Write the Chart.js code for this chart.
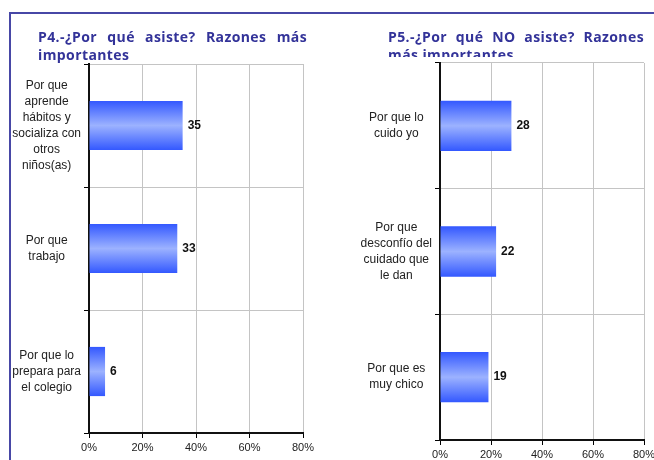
<!DOCTYPE html>
<html lang="es">
<head>
    <meta charset="UTF-8">
    <title>P4 / P5 - Razones más importantes</title>
    <script src="https://cdn.jsdelivr.net/npm/chart.js"></script>
    <style>
        body {
            margin: 0;
            width: 654px;
            height: 460px;
            overflow: hidden;
            position: relative;
            background: #fff;
            font-family: "Liberation Sans", Arial, sans-serif;
        }
        .frame {
            position: absolute;
            left: 9px;
            top: 12px;
            width: 660px;
            height: 460px;
            border-top: 2px solid #4747a6;
            border-left: 2px solid #4747a6;
        }
        canvas {
            position: absolute;
            top: 0;
        }
        #chartP4 { left: 0; }
        #chartP5 { left: 327px; }
        .title {
            position: absolute;
            top: 28px;
            font-family: "Open Sans", "DejaVu Sans", sans-serif;
            font-weight: bold;
            font-size: 14px;
            line-height: 18px;
            letter-spacing: 0.4px;
            color: #333399;
            text-align: justify;
            text-align-last: left;
        }
        #titleP4 { left: 38px; width: 269px; }
        #titleP5 { left: 388px; width: 256px; height: 29px; overflow: hidden; }
    </style>
</head>
<body>
    <div class="frame"></div>
    <canvas id="chartP4" width="327" height="460"></canvas>
    <canvas id="chartP5" width="327" height="460"></canvas>
    <div class="title" id="titleP4">P4.-¿Por qué asiste? Razones más importantes</div>
    <div class="title" id="titleP5">P5.-¿Por qué NO asiste? Razones más importantes</div>
    <script>
        // data (percent)
        const p4Labels = [
            ['Por que', 'aprende', 'hábitos y', 'socializa con', 'otros', 'niños(as)'],
            ['Por que', 'trabajo'],
            ['Por que lo', 'prepara para', 'el colegio']
        ];
        const p4Values = [35, 33, 6];

        const p5Labels = [
            ['Por que lo', 'cuido yo'],
            ['Por que', 'desconfío del', 'cuidado que', 'le dan'],
            ['Por que es', 'muy chico']
        ];
        const p5Values = [28, 22, 19];

        const xMax = 80;
        const xStep = 20;

        // bar fill: blue at the edges, light in the middle
        function barFill(context) {
            const chart = context.chart;
            const y = chart.scales.y;
            if (!chart.chartArea || !y) return '#4a6cff';
            const center = y.getPixelForValue(context.dataIndex);
            const half = (y.height / chart.data.labels.length) * 0.4 / 2;
            const g = chart.ctx.createLinearGradient(0, center - half, 0, center + half);
            g.addColorStop(0, '#3358ff');
            g.addColorStop(0.5, '#9cb2ff');
            g.addColorStop(1, '#3358ff');
            return g;
        }

        const valueLabels = {
            id: 'valueLabels',
            afterDatasetsDraw(chart) {
                const ctx = chart.ctx;
                const meta = chart.getDatasetMeta(0);
                ctx.save();
                ctx.font = 'bold 12px "Liberation Sans", Arial, sans-serif';
                ctx.fillStyle = '#111';
                ctx.textAlign = 'left';
                ctx.textBaseline = 'middle';
                meta.data.forEach((bar, i) => {
                    ctx.fillText(chart.data.datasets[0].data[i], bar.x + 5, bar.y);
                });
                ctx.restore();
            }
        };

        function drawChart(id, labels, values, yWidth, xHeight, padTop, padRight) {
            new Chart(document.getElementById(id), {
                type: 'bar',
                data: {
                    labels: labels,
                    datasets: [{
                        data: values,
                        backgroundColor: barFill,
                        borderWidth: 0,
                        categoryPercentage: 1,
                        barPercentage: 0.4
                    }]
                },
                options: {
                    indexAxis: 'y',
                    responsive: false,
                    animation: false,
                    layout: { padding: { top: padTop, right: padRight, left: 0, bottom: 0 } },
                    plugins: {
                        legend: { display: false },
                        tooltip: { enabled: false }
                    },
                    scales: {
                        x: {
                            min: 0,
                            max: xMax,
                            ticks: {
                                stepSize: xStep,
                                padding: 3,
                                color: '#222',
                                font: { size: 11, family: '"Liberation Sans", Arial, sans-serif' },
                                callback: v => v + '%'
                            },
                            grid: { color: '#c4c4c4', tickColor: '#000', tickLength: 5, lineWidth: 1 },
                            border: { color: '#111', width: 2 },
                            afterFit(scale) {
                                scale.height = xHeight;
                                scale.paddingLeft = 0;
                                scale.paddingRight = 0;
                            }
                        },
                        y: {
                            ticks: {
                                crossAlign: 'center',
                                padding: 3,
                                color: '#222',
                                font: { size: 12, family: '"Liberation Sans", Arial, sans-serif', lineHeight: 1.33 }
                            },
                            grid: { color: '#c4c4c4', tickColor: '#000', tickLength: 5, lineWidth: 1 },
                            border: { color: '#111', width: 2 },
                            afterFit(scale) {
                                scale.width = yWidth;
                                scale.paddingTop = 0;
                                scale.paddingBottom = 0;
                            }
                        }
                    }
                },
                plugins: [valueLabels]
            });
        }

        drawChart('chartP4', p4Labels, p4Values, 89, 27, 64, 24);
        drawChart('chartP5', p5Labels, p5Values, 113, 20, 63, 10);
    </script>
</body>
</html>
